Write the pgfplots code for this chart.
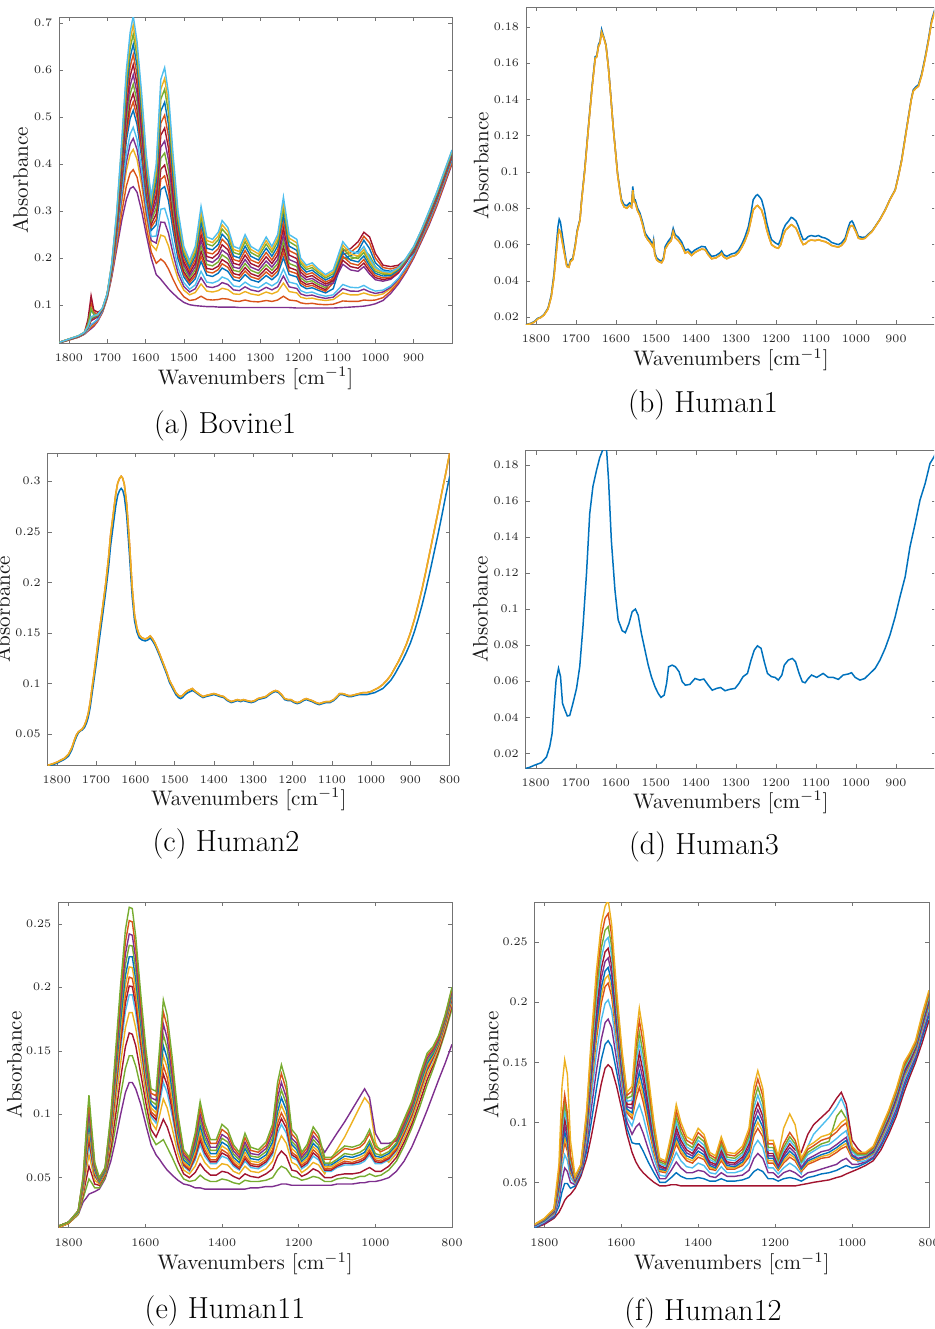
\RequirePackage{fix-cm}
\documentclass[border=0pt]{standalone}
\usepackage{fontspec}
\usepackage{pgfplots}
\usepackage{pgfplotstable}
\pgfplotsset{compat=1.18}
\definecolor{C1}{rgb}{0,0.447,0.741}
\definecolor{C2}{rgb}{0.85,0.325,0.098}
\definecolor{C3}{rgb}{0.929,0.694,0.125}
\definecolor{C4}{rgb}{0.494,0.184,0.556}
\definecolor{C5}{rgb}{0.466,0.674,0.188}
\definecolor{C6}{rgb}{0.301,0.745,0.933}
\definecolor{C7}{rgb}{0.635,0.078,0.184}

\pgfplotstableread{
x B g10 g22 g35 g45 g55 g66 g78 g90 T
1825 .020 .020 .020 .020 .020 .021 .021 .021 .021 .021
1800 .026 .026 .026 .027 .027 .027 .027 .028 .028 .028
1775 .032 .032 .033 .033 .033 .034 .034 .034 .035 .035
1760 .038 .038 .039 .039 .040 .040 .041 .041 .042 .042
1750 .045 .046 .047 .049 .055 .070 .052 .053 .054 .055
1742 .050 .053 .056 .059 .090 .120 .067 .070 .073 .075
1735 .055 .057 .060 .063 .082 .090 .070 .073 .076 .078
1725 .065 .067 .068 .070 .074 .085 .075 .077 .079 .080
1712 .085 .086 .087 .089 .090 .091 .092 .093 .094 .095
1700 .115 .116 .117 .119 .120 .121 .122 .123 .124 .125
1688 .160 .163 .167 .171 .174 .177 .180 .183 .187 .190
1675 .220 .228 .238 .248 .256 .264 .273 .282 .292 .300
1662 .280 .297 .317 .340 .357 .374 .392 .413 .433 .450
1650 .325 .353 .386 .421 .449 .476 .507 .540 .573 .600
1640 .348 .381 .421 .464 .497 .531 .567 .607 .647 .680
1632 .352 .388 .431 .478 .514 .550 .590 .633 .676 .715
1622 .340 .372 .410 .452 .484 .516 .551 .590 .628 .660
1610 .300 .325 .355 .388 .413 .438 .465 .495 .525 .550
1598 .250 .267 .287 .310 .327 .344 .362 .383 .403 .420
1585 .200 .213 .229 .246 .259 .272 .286 .301 .317 .330
1572 .165 .189 .217 .247 .271 .294 .320 .348 .377 .400
1560 .155 .198 .249 .304 .346 .389 .436 .487 .538 .580
1550 .145 .191 .246 .306 .352 .398 .449 .504 .559 .605
1540 .135 .177 .226 .280 .322 .363 .409 .459 .509 .550
1528 .125 .155 .190 .228 .258 .287 .320 .355 .391 .420
1515 .115 .134 .156 .180 .198 .217 .237 .259 .282 .300
1500 .106 .118 .132 .148 .160 .171 .185 .199 .213 .225
1485 .101 .110 .122 .134 .143 .153 .163 .174 .186 .195
1470 .099 .112 .127 .143 .156 .168 .182 .197 .212 .225
1455 .098 .119 .145 .172 .193 .215 .238 .263 .289 .310
1440 .097 .112 .130 .149 .164 .178 .195 .212 .230 .245
1425 .097 .111 .128 .147 .161 .176 .191 .209 .226 .240
1410 .096 .112 .131 .152 .168 .183 .201 .220 .239 .255
1400 .096 .114 .136 .160 .179 .197 .217 .240 .262 .280
1385 .096 .113 .133 .155 .172 .189 .208 .228 .248 .265
1370 .096 .109 .124 .141 .154 .167 .181 .197 .212 .225
1355 .095 .108 .123 .139 .151 .164 .178 .193 .208 .220
1340 .095 .111 .129 .149 .165 .180 .197 .216 .235 .250
1325 .095 .108 .124 .141 .154 .167 .181 .196 .212 .225
1305 .095 .107 .121 .137 .149 .161 .174 .189 .203 .215
1285 .095 .110 .128 .148 .163 .178 .194 .212 .230 .245
1270 .095 .108 .124 .141 .154 .167 .181 .196 .212 .225
1255 .095 .111 .129 .149 .165 .180 .197 .216 .235 .250
1240 .095 .119 .147 .177 .201 .224 .250 .278 .307 .330
1225 .095 .111 .129 .149 .165 .180 .197 .216 .235 .250
1205 .094 .109 .126 .145 .160 .174 .190 .208 .225 .240
1195 .094 .105 .117 .131 .142 .152 .164 .177 .189 .200
1180 .094 .103 .114 .126 .135 .144 .154 .165 .176 .185
1165 .094 .104 .115 .128 .137 .147 .157 .169 .180 .190
1150 .094 .102 .112 .123 .132 .140 .149 .160 .170 .178
1130 .094 .101 .110 .119 .126 .133 .141 .149 .158 .165
1110 .094 .102 .112 .122 .135 .160 .147 .157 .167 .175
1085 .095 .109 .126 .144 .200 .215 .187 .204 .221 .235
1065 .096 .108 .122 .138 .205 .220 .175 .189 .203 .215
1045 .097 .108 .122 .137 .215 .235 .172 .185 .199 .210
1030 .098 .111 .126 .142 .238 .255 .182 .197 .212 .225
1015 .100 .110 .122 .135 .220 .245 .166 .178 .190 .200
1000 .103 .111 .120 .130 .190 .210 .154 .163 .172 .180
980 .110 .116 .124 .132 .175 .185 .151 .158 .166 .172
960 .125 .130 .135 .141 .172 .182 .155 .160 .166 .170
940 .145 .149 .153 .157 .178 .185 .168 .172 .177 .180
920 .170 .173 .177 .181 .195 .198 .190 .193 .197 .200
900 .200 .203 .206 .209 .211 .214 .217 .220 .223 .225
880 .235 .238 .241 .244 .246 .249 .252 .255 .258 .260
860 .270 .273 .277 .281 .284 .287 .290 .293 .297 .300
840 .310 .313 .317 .321 .324 .327 .330 .333 .337 .340
820 .355 .358 .362 .366 .369 .372 .375 .378 .382 .385
800 .400 .403 .407 .411 .414 .417 .420 .423 .427 .430
}\tabA

\pgfplotstableread{
x h28 h50 h60 h72 h84 h95
1825 .020 .0205 .021 .021 .021 .021
1800 .0265 .027 .027 .0275 .028 .028
1775 .033 .0335 .034 .034 .0345 .035
1760 .039 .040 .0405 .041 .0415 .042
1750 .048 .0625 .061 .0525 .0535 .0545
1742 .0575 .105 .0935 .0685 .0715 .074
1735 .0615 .086 .080 .0715 .0745 .077
1725 .069 .0795 .080 .076 .078 .0795
1712 .088 .0905 .0915 .0925 .0935 .0945
1700 .118 .1205 .1215 .1225 .1235 .1245
1688 .169 .1755 .1785 .1815 .185 .1885
1675 .243 .260 .2685 .2775 .287 .296
1662 .3285 .3655 .383 .4025 .423 .4415
1650 .4035 .4625 .4915 .5235 .5565 .5865
1640 .4425 .514 .549 .587 .627 .6635
1632 .4545 .532 .570 .6115 .6545 .6955
1622 .431 .500 .5335 .5705 .609 .644
1610 .3715 .4255 .4515 .480 .510 .5375
1598 .2985 .3355 .353 .3725 .393 .4115
1585 .2375 .2655 .279 .2935 .309 .3235
1572 .232 .2825 .307 .334 .3625 .3885
1560 .2765 .3675 .4125 .4615 .5125 .559
1550 .276 .375 .4235 .4765 .5315 .582
1540 .253 .3425 .386 .434 .484 .5295
1528 .209 .2725 .3035 .3375 .373 .4055
1515 .168 .2075 .227 .248 .2705 .291
1500 .140 .1655 .178 .192 .206 .219
1485 .128 .148 .158 .1685 .180 .1905
1470 .135 .162 .175 .1895 .2045 .2185
1455 .1585 .204 .2265 .2505 .276 .2995
1440 .1395 .171 .1865 .2035 .221 .2375
1425 .1375 .1685 .1835 .200 .2175 .233
1410 .1415 .1755 .192 .2105 .2295 .247
1400 .148 .188 .207 .2285 .251 .271
1385 .144 .1805 .1985 .218 .238 .2565
1370 .1325 .1605 .174 .189 .2045 .2185
1355 .131 .1575 .171 .1855 .2005 .214
1340 .139 .1725 .1885 .2065 .2255 .2425
1325 .1325 .1605 .174 .1885 .204 .2185
1305 .129 .155 .1675 .1815 .196 .209
1285 .138 .1705 .186 .203 .221 .2375
1270 .1325 .1605 .174 .1885 .204 .2185
1255 .139 .1725 .1885 .2065 .2255 .2425
1240 .162 .2125 .237 .264 .2925 .3185
1225 .139 .1725 .1885 .2065 .2255 .2425
1205 .1355 .167 .182 .199 .2165 .2325
1195 .124 .147 .158 .1705 .183 .1945
1180 .120 .1395 .149 .1595 .1705 .1805
1165 .1215 .142 .152 .163 .1745 .185
1150 .1175 .136 .1445 .1545 .165 .174
1130 .1145 .1295 .137 .145 .1535 .1615
1110 .117 .1475 .1535 .152 .162 .171
1085 .135 .2075 .201 .1955 .2125 .228
1065 .130 .2125 .1975 .182 .196 .209
1045 .1295 .225 .2035 .1785 .192 .2045
1030 .134 .2465 .2185 .1895 .2045 .2185
1015 .1285 .2325 .2055 .172 .184 .195
1000 .125 .200 .182 .1585 .1675 .176
980 .128 .180 .168 .1545 .162 .169
960 .138 .177 .1685 .1575 .163 .168
940 .155 .1815 .1765 .170 .1745 .1785
920 .179 .1965 .194 .1915 .195 .1985
900 .2075 .2125 .2155 .2185 .2215 .224
880 .2425 .2475 .2505 .2535 .2565 .259
860 .279 .2855 .2885 .2915 .295 .2985
840 .319 .3255 .3285 .3315 .335 .3385
820 .364 .3705 .3735 .3765 .380 .3835
800 .409 .4155 .4185 .4215 .425 .4285
}\tabAh

\pgfplotstableread{
x Bl Ye
1825 .0160 .0158
1815 .0165 .0163
1805 .0175 .0172
1795 .0195 .0192
1788 .0200 .0198
1780 .0215 .0212
1770 .0250 .0245
1762 .0320 .0310
1755 .0440 .0420
1749 .0600 .0560
1745 .0700 .0650
1742 .0740 .0680
1739 .0725 .0670
1734 .0650 .0610
1728 .0560 .0540
1723 .0490 .0480
1718 .0480 .0475
1714 .0515 .0505
1708 .0525 .0518
1702 .0600 .0590
1697 .0680 .0670
1690 .0740 .0735
1686 .0847 .0840
1678 .1020 .1010
1669 .1250 .1240
1660 .1470 .1460
1652 .1635 .1625
1648 .1640 .1635
1644 .1700 .1690
1640 .1720 .1710
1636 .1785 .1770
1630 .1740 .1735
1625 .1700 .1695
1619 .1580 .1575
1613 .1420 .1415
1607 .1250 .1245
1601 .1110 .1105
1596 .0993 .0985
1590 .0900 .0890
1586 .0847 .0835
1580 .0820 .0808
1573 .0814 .0800
1566 .0830 .0815
1561 .0820 .0805
1558 .0920 .0900
1555 .0850 .0835
1552 .0847 .0832
1546 .0800 .0785
1540 .0773 .0760
1533 .0720 .0705
1527 .0663 .0650
1520 .0640 .0625
1515 .0627 .0612
1508 .0600 .0588
1506 .0625 .0610
1503 .0555 .0543
1498 .0526 .0515
1492 .0515 .0505
1486 .0508 .0500
1481 .0530 .0520
1477 .0590 .0575
1469 .0620 .0605
1462 .0640 .0622
1457 .0690 .0672
1452 .0655 .0638
1444 .0640 .0622
1436 .0615 .0598
1427 .0568 .0553
1420 .0575 .0560
1411 .0554 .0540
1403 .0570 .0556
1394 .0581 .0567
1386 .0590 .0575
1377 .0587 .0572
1370 .0560 .0546
1361 .0535 .0522
1350 .0540 .0527
1340 .0555 .0541
1336 .0565 .0551
1331 .0545 .0532
1323 .0535 .0522
1312 .0548 .0534
1302 .0554 .0540
1294 .0570 .0555
1286 .0600 .0583
1278 .0640 .0618
1269 .0700 .0670
1262 .0780 .0740
1257 .0847 .0790
1250 .0870 .0810
1246 .0875 .0815
1240 .0860 .0800
1236 .0847 .0790
1229 .0790 .0740
1223 .0719 .0680
1216 .0660 .0630
1211 .0627 .0600
1202 .0610 .0585
1194 .0600 .0580
1188 .0630 .0600
1182 .0682 .0650
1176 .0710 .0680
1169 .0728 .0695
1162 .0750 .0710
1158 .0746 .0705
1150 .0730 .0690
1144 .0700 .0660
1138 .0660 .0625
1132 .0627 .0600
1126 .0630 .0605
1119 .0645 .0620
1112 .0650 .0625
1102 .0645 .0622
1094 .0650 .0627
1085 .0640 .0620
1077 .0636 .0616
1068 .0625 .0606
1061 .0612 .0595
1052 .0605 .0590
1044 .0600 .0586
1036 .0610 .0596
1027 .0636 .0620
1020 .0690 .0670
1015 .0722 .0700
1010 .0730 .0705
1007 .0719 .0700
1000 .0680 .0670
994 .0645 .0635
985 .0640 .0630
977 .0641 .0635
968 .0660 .0655
960 .0675 .0672
952 .0700 .0698
940 .0740 .0738
927 .0792 .0790
915 .0850 .0848
902 .0902 .0900
894 .0980 .0975
886 .1067 .1060
878 .1180 .1172
869 .1305 .1298
862 .1400 .1395
857 .1452 .1445
850 .1470 .1462
844 .1480 .1472
836 .1540 .1530
827 .1635 .1625
819 .1730 .1720
811 .1837 .1825
805 .1880 .1870
800 .1920 .1912
}\tabB

\pgfplotstableread{
x Ye Bl
1823 .0190 .0185
1810 .0205 .0195
1800 .0220 .0210
1790 .0240 .0230
1780 .0260 .0250
1770 .0300 .0280
1762 .0360 .0340
1755 .0440 .0420
1750 .0490 .0470
1745 .0520 .0510
1740 .0535 .0530
1735 .0550 .0540
1730 .0580 .0560
1725 .0630 .0600
1720 .0700 .0660
1715 .0810 .0760
1710 .0960 .0900
1705 .1100 .1040
1700 .1250 .1180
1692 .1500 .1420
1683 .1760 .1680
1675 .2000 .1920
1668 .2250 .2150
1663 .2470 .2360
1657 .2650 .2540
1650 .2870 .2750
1645 .2980 .2860
1640 .3030 .2910
1636 .3050 .2930
1632 .3030 .2910
1628 .2970 .2850
1622 .2780 .2660
1615 .2400 .2280
1608 .1950 .1860
1602 .1680 .1620
1596 .1550 .1510
1590 .1480 .1450
1583 .1450 .1430
1575 .1440 .1420
1568 .1450 .1430
1562 .1470 .1450
1556 .1440 .1420
1550 .1400 .1380
1540 .1310 .1290
1530 .1210 .1190
1520 .1110 .1090
1513 .1030 .1010
1505 .0970 .0950
1497 .0910 .0890
1490 .0880 .0860
1485 .0870 .0850
1480 .0880 .0860
1473 .0910 .0890
1466 .0930 .0910
1460 .0940 .0920
1455 .0950 .0930
1450 .0930 .0920
1443 .0910 .0900
1436 .0890 .0880
1428 .0870 .0860
1420 .0880 .0870
1410 .0890 .0880
1400 .0900 .0890
1392 .0890 .0880
1385 .0880 .0870
1375 .0870 .0860
1366 .0840 .0830
1356 .0820 .0810
1348 .0830 .0820
1340 .0840 .0830
1332 .0830 .0820
1325 .0840 .0830
1316 .0830 .0820
1305 .0820 .0810
1296 .0830 .0820
1288 .0850 .0840
1278 .0860 .0850
1268 .0870 .0860
1258 .0900 .0890
1250 .0920 .0910
1243 .0930 .0920
1236 .0920 .0910
1228 .0890 .0880
1220 .0850 .0840
1212 .0840 .0830
1204 .0840 .0830
1196 .0820 .0810
1188 .0810 .0800
1180 .0820 .0810
1172 .0840 .0830
1165 .0850 .0840
1158 .0840 .0830
1150 .0830 .0820
1140 .0810 .0800
1132 .0800 .0790
1124 .0810 .0800
1115 .0820 .0810
1105 .0820 .0810
1095 .0840 .0830
1087 .0870 .0860
1080 .0900 .0890
1073 .0900 .0890
1065 .0890 .0880
1058 .0880 .0870
1050 .0880 .0870
1040 .0890 .0880
1030 .0900 .0890
1020 .0910 .0890
1010 .0910 .0890
1000 .0920 .0900
990 .0940 .0910
980 .0960 .0930
970 .0990 .0950
960 .1030 .0990
950 .1080 .1030
940 .1150 .1090
930 .1220 .1160
920 .1300 .1230
910 .1390 .1310
900 .1500 .1400
890 .1630 .1510
880 .1780 .1640
870 .1940 .1780
860 .2120 .1940
850 .2310 .2110
840 .2500 .2290
830 .2690 .2470
820 .2890 .2660
810 .3080 .2860
800 .3280 .3050
}\tabC

\pgfplotstableread{
x Bl
1825 .0117
1818 .0120
1802 .0135
1786 .0148
1773 .0180
1765 .0237
1759 .0310
1754 .0460
1749 .0606
1743 .0671
1738 .0625
1733 .0477
1727 .0440
1721 .0407
1715 .0410
1707 .0477
1698 .0560
1690 .0680
1682 .0900
1673 .1200
1665 .1530
1657 .1680
1648 .1770
1640 .1840
1632 .1885
1623 .1885
1618 .1715
1611 .1380
1602 .1105
1594 .0940
1584 .0880
1576 .0869
1567 .0920
1559 .0985
1551 .1000
1544 .0966
1536 .0865
1527 .0772
1519 .0690
1511 .0625
1502 .0569
1494 .0532
1487 .0510
1479 .0523
1473 .0588
1468 .0680
1459 .0689
1451 .0680
1442 .0653
1434 .0597
1426 .0578
1415 .0582
1402 .0615
1390 .0606
1380 .0612
1369 .0578
1359 .0550
1348 .0560
1338 .0565
1327 .0547
1315 .0555
1302 .0560
1292 .0588
1282 .0625
1271 .0643
1262 .0717
1254 .0772
1246 .0796
1237 .0782
1229 .0708
1221 .0643
1211 .0625
1202 .0621
1194 .0606
1185 .0634
1179 .0689
1169 .0717
1159 .0726
1151 .0708
1142 .0643
1134 .0597
1127 .0591
1119 .0615
1111 .0634
1098 .0621
1082 .0643
1069 .0621
1057 .0621
1044 .0610
1032 .0634
1019 .0640
1011 .0647
1002 .0621
990 .0606
978 .0615
965 .0643
952 .0671
940 .0717
927 .0782
915 .0856
902 .0957
890 .1068
877 .1179
865 .1345
852 .1475
840 .1604
827 .1697
815 .1807
805 .1844
800 .1870
}\tabD

\pgfplotstableread{
x B g15 g28 g40 g50 g60 g72 g85 T
1825 .011 .011 .011 .011 .012 .012 .012 .012 .012
1800 .014 .014 .014 .014 .015 .015 .015 .015 .015
1775 .021 .021 .022 .022 .023 .023 .023 .024 .024
1762 .031 .034 .037 .039 .042 .044 .046 .049 .052
1754 .034 .042 .049 .056 .061 .066 .073 .080 .088
1747 .037 .049 .059 .068 .076 .084 .093 .103 .115
1740 .038 .046 .053 .059 .064 .069 .075 .082 .090
1732 .039 .042 .045 .048 .051 .053 .056 .059 .062
1720 .041 .042 .044 .045 .046 .046 .047 .049 .050
1705 .049 .050 .052 .053 .054 .054 .055 .057 .058
1690 .063 .069 .073 .078 .082 .085 .090 .094 .100
1678 .079 .089 .098 .107 .114 .120 .129 .138 .148
1665 .099 .114 .127 .139 .150 .160 .172 .185 .200
1652 .117 .136 .153 .168 .181 .194 .209 .226 .245
1642 .125 .146 .164 .180 .194 .208 .224 .242 .263
1634 .125 .146 .163 .180 .194 .207 .224 .241 .262
1625 .120 .138 .154 .168 .180 .192 .206 .222 .240
1612 .108 .121 .132 .143 .152 .160 .171 .182 .195
1598 .091 .100 .108 .115 .121 .126 .133 .141 .150
1585 .076 .083 .088 .094 .098 .102 .108 .113 .120
1572 .068 .076 .082 .088 .093 .098 .104 .111 .118
1562 .064 .078 .089 .100 .110 .119 .130 .141 .155
1553 .060 .080 .096 .112 .125 .138 .154 .171 .190
1543 .056 .074 .090 .105 .117 .129 .144 .160 .178
1530 .052 .066 .078 .089 .099 .108 .119 .131 .145
1515 .048 .056 .063 .069 .074 .079 .085 .092 .100
1500 .045 .049 .053 .056 .059 .061 .064 .068 .072
1485 .044 .047 .050 .053 .055 .057 .060 .063 .066
1470 .042 .048 .054 .059 .064 .068 .073 .079 .085
1457 .042 .052 .061 .069 .076 .083 .091 .100 .110
1445 .041 .049 .056 .062 .067 .072 .078 .085 .093
1430 .041 .047 .052 .057 .061 .064 .069 .074 .080
1415 .041 .047 .052 .057 .061 .064 .069 .074 .080
1400 .041 .049 .055 .061 .067 .072 .078 .084 .092
1385 .041 .048 .054 .060 .065 .069 .075 .081 .088
1370 .041 .046 .051 .055 .059 .062 .066 .071 .076
1355 .041 .045 .049 .053 .056 .058 .062 .066 .070
1340 .041 .048 .053 .059 .063 .067 .073 .078 .085
1325 .042 .047 .051 .055 .058 .061 .065 .069 .074
1305 .042 .047 .050 .054 .057 .060 .064 .068 .072
1285 .043 .048 .053 .057 .061 .064 .068 .073 .078
1268 .043 .050 .057 .063 .068 .072 .078 .085 .092
1255 .044 .056 .067 .076 .085 .093 .102 .113 .125
1245 .045 .059 .071 .083 .092 .101 .113 .125 .139
1232 .045 .057 .067 .077 .085 .093 .103 .113 .125
1218 .044 .051 .056 .062 .066 .070 .076 .081 .088
1205 .044 .050 .055 .060 .064 .067 .072 .077 .083
1192 .044 .048 .051 .054 .057 .060 .063 .066 .070
1178 .044 .049 .053 .057 .060 .063 .067 .071 .076
1162 .044 .051 .057 .062 .067 .072 .077 .083 .090
1148 .044 .050 .055 .060 .064 .068 .073 .078 .084
1132 .044 .047 .050 .053 .055 .057 .060 .070 .066
1115 .044 .047 .050 .065 .055 .057 .060 .078 .066
1100 .045 .049 .052 .072 .058 .060 .063 .085 .070
1080 .045 .050 .053 .082 .060 .063 .067 .094 .075
1060 .045 .049 .053 .094 .060 .062 .066 .104 .074
1040 .046 .051 .054 .106 .061 .064 .068 .114 .076
1028 .046 .051 .056 .113 .063 .066 .070 .120 .080
1015 .047 .053 .058 .108 .068 .072 .077 .113 .088
1000 .047 .051 .055 .078 .061 .064 .067 .085 .075
985 .048 .052 .055 .068 .061 .063 .066 .077 .072
965 .050 .056 .059 .062 .064 .066 .069 .077 .075
945 .055 .063 .066 .069 .071 .073 .076 .079 .082
925 .063 .075 .078 .081 .084 .086 .089 .092 .096
905 .074 .089 .092 .095 .098 .100 .103 .106 .110
885 .088 .105 .109 .113 .116 .118 .122 .126 .130
865 .103 .123 .127 .131 .134 .136 .140 .144 .148
850 .115 .135 .138 .140 .143 .145 .147 .150 .153
835 .127 .148 .150 .152 .154 .155 .157 .159 .162
818 .140 .164 .166 .168 .170 .172 .174 .176 .178
800 .155 .183 .186 .188 .190 .192 .194 .197 .200
}\tabE

\pgfplotstableread{
x h55 h66 h78 h92
1825 .012 .012 .012 .012
1800 .015 .015 .015 .015
1775 .023 .023 .0235 .024
1762 .043 .045 .0475 .0505
1754 .0635 .0695 .0765 .084
1747 .080 .0885 .098 .109
1740 .0665 .072 .0785 .086
1732 .052 .0545 .0575 .0605
1720 .046 .0465 .048 .0495
1705 .054 .0545 .056 .0575
1690 .0835 .0875 .092 .097
1678 .117 .1245 .1335 .143
1665 .155 .166 .1785 .1925
1652 .1875 .2015 .2175 .2355
1642 .201 .216 .233 .2525
1634 .2005 .2155 .2325 .2515
1625 .186 .199 .214 .231
1612 .156 .1655 .1765 .1885
1598 .1235 .1295 .137 .1455
1585 .100 .105 .1105 .1165
1572 .0955 .101 .1075 .1145
1562 .1145 .1245 .1355 .148
1553 .1315 .146 .1625 .1805
1543 .123 .1365 .152 .169
1530 .1035 .1135 .125 .138
1515 .0765 .082 .0885 .096
1500 .060 .0625 .066 .070
1485 .056 .0585 .0615 .0645
1470 .066 .0705 .076 .082
1457 .0795 .087 .0955 .105
1445 .0695 .075 .0815 .089
1430 .0625 .0665 .0715 .077
1415 .0625 .0665 .0715 .077
1400 .0695 .075 .081 .088
1385 .067 .072 .078 .0845
1370 .0605 .064 .0685 .0735
1355 .057 .060 .064 .068
1340 .065 .070 .0755 .0815
1325 .0595 .063 .067 .0715
1305 .0585 .062 .066 .070
1285 .0625 .066 .0705 .0755
1268 .070 .075 .0815 .0885
1255 .089 .0975 .1075 .119
1245 .0965 .107 .119 .132
1232 .089 .098 .108 .119
1218 .068 .073 .0785 .0845
1205 .0655 .0695 .0745 .080
1192 .0585 .0615 .0645 .068
1178 .0615 .065 .069 .0735
1162 .0695 .0745 .080 .0865
1148 .066 .0705 .0755 .081
1132 .056 .0585 .0615 .0645
1115 .056 .0585 .0615 .0645
1100 .059 .0615 .0645 .068
1080 .0615 .065 .069 .073
1060 .061 .064 .068 .072
1040 .0625 .066 .070 .074
1028 .0645 .068 .0725 .0775
1015 .070 .0745 .0795 .085
1000 .0625 .0655 .069 .073
985 .062 .0645 .0675 .0705
965 .065 .0675 .0705 .0735
945 .072 .0745 .0775 .0805
925 .085 .0875 .0905 .094
905 .099 .1015 .1045 .108
885 .117 .120 .124 .128
865 .135 .138 .142 .146
850 .144 .146 .1485 .1515
835 .1545 .156 .158 .1605
818 .171 .173 .175 .177
800 .191 .193 .1955 .1985
}\tabEh

\pgfplotstableread{
x B g15 g28 g40 g50 g60 g72 g85 T
1825 .012 .012 .013 .013 .014 .014 .014 .015 .015
1800 .015 .016 .016 .017 .018 .018 .019 .019 .020
1775 .020 .021 .022 .023 .024 .025 .026 .027 .028
1762 .025 .030 .035 .039 .043 .046 .050 .055 .065
1754 .030 .042 .052 .062 .070 .078 .088 .098 .130
1747 .035 .049 .062 .073 .083 .092 .103 .116 .152
1740 .038 .049 .059 .068 .076 .083 .092 .102 .140
1732 .040 .045 .050 .054 .058 .061 .065 .070 .085
1720 .045 .047 .048 .049 .050 .051 .052 .054 .055
1705 .055 .057 .058 .059 .060 .061 .062 .064 .065
1690 .070 .076 .081 .086 .090 .094 .099 .104 .110
1678 .088 .100 .111 .121 .129 .137 .147 .158 .170
1665 .110 .127 .142 .156 .168 .179 .193 .208 .225
1652 .132 .152 .169 .185 .199 .212 .228 .245 .265
1642 .145 .165 .183 .199 .213 .226 .242 .260 .280
1634 .148 .168 .186 .202 .216 .229 .245 .263 .285
1625 .145 .163 .179 .193 .205 .217 .231 .247 .265
1612 .130 .142 .152 .162 .170 .178 .188 .198 .210
1598 .110 .118 .124 .130 .135 .140 .146 .153 .160
1585 .090 .095 .100 .104 .108 .111 .115 .120 .125
1572 .075 .083 .090 .097 .103 .108 .115 .122 .130
1562 .067 .082 .096 .108 .119 .129 .141 .155 .170
1553 .062 .082 .099 .115 .129 .142 .158 .175 .195
1543 .058 .076 .091 .105 .117 .128 .142 .157 .175
1530 .054 .067 .078 .088 .097 .106 .116 .127 .140
1515 .050 .058 .064 .070 .075 .080 .086 .093 .100
1500 .047 .050 .053 .056 .059 .061 .064 .067 .070
1485 .047 .050 .053 .055 .058 .060 .062 .065 .068
1470 .048 .054 .060 .065 .069 .073 .078 .084 .090
1457 .048 .058 .067 .075 .082 .088 .096 .105 .115
1445 .047 .055 .062 .068 .074 .079 .085 .092 .100
1430 .047 .053 .058 .063 .068 .072 .077 .082 .088
1415 .047 .053 .058 .062 .066 .070 .074 .079 .085
1400 .047 .054 .060 .066 .071 .076 .082 .088 .095
1385 .047 .053 .059 .064 .069 .073 .078 .084 .090
1370 .047 .051 .055 .058 .061 .064 .067 .071 .075
1355 .047 .051 .054 .057 .060 .062 .065 .068 .072
1340 .047 .053 .058 .063 .068 .072 .077 .082 .088
1325 .047 .051 .055 .058 .061 .064 .067 .071 .075
1305 .047 .051 .055 .058 .061 .063 .066 .070 .074
1285 .047 .052 .056 .060 .064 .067 .071 .075 .080
1268 .047 .054 .060 .066 .071 .076 .082 .088 .095
1255 .047 .059 .070 .080 .089 .097 .107 .118 .130
1245 .047 .061 .074 .085 .095 .105 .116 .129 .143
1232 .047 .059 .070 .079 .088 .096 .105 .116 .128
1218 .047 .053 .058 .062 .066 .070 .074 .079 .085
1205 .047 .053 .058 .062 .066 .070 .074 .079 .085
1192 .047 .051 .054 .057 .060 .062 .065 .068 .072
1178 .047 .053 .058 .062 .066 .070 .074 .079 .095
1162 .047 .054 .060 .066 .071 .076 .082 .088 .107
1148 .047 .053 .058 .063 .068 .072 .077 .082 .098
1132 .048 .051 .054 .057 .059 .061 .075 .067 .070
1115 .049 .054 .058 .080 .065 .068 .090 .075 .080
1100 .050 .055 .059 .090 .067 .070 .098 .078 .083
1080 .051 .057 .061 .097 .070 .073 .104 .082 .088
1060 .052 .058 .063 .104 .071 .075 .110 .084 .090
1040 .054 .060 .065 .113 .075 .079 .120 .105 .095
1028 .055 .062 .068 .120 .078 .082 .125 .110 .100
1015 .057 .064 .070 .110 .080 .085 .115 .103 .103
1000 .059 .062 .065 .080 .070 .072 .085 .077 .080
985 .061 .063 .065 .067 .068 .069 .078 .073 .075
965 .064 .066 .067 .068 .070 .071 .072 .073 .075
945 .068 .070 .071 .073 .074 .075 .077 .078 .080
925 .077 .080 .082 .084 .086 .088 .090 .092 .095
905 .090 .093 .096 .098 .100 .102 .104 .107 .110
885 .105 .108 .111 .114 .117 .119 .122 .125 .128
865 .125 .129 .132 .135 .138 .140 .143 .146 .150
850 .138 .141 .144 .146 .148 .150 .152 .155 .158
835 .150 .153 .155 .157 .159 .161 .163 .165 .168
818 .166 .170 .173 .176 .178 .180 .183 .186 .190
800 .185 .189 .192 .195 .198 .200 .203 .206 .210
}\tabF

\pgfplotstableread{
x h55 h66 h78 h92
1825 .014 .014 .0145 .015
1800 .018 .0185 .019 .0195
1775 .0245 .0255 .0265 .0275
1762 .0445 .048 .0525 .0575
1754 .074 .083 .093 .104
1747 .0875 .0975 .1095 .123
1740 .0795 .0875 .097 .1075
1732 .0595 .063 .0675 .0725
1720 .0505 .0515 .053 .0545
1705 .0605 .0615 .063 .0645
1690 .092 .0965 .1015 .107
1678 .133 .142 .1525 .164
1665 .1735 .186 .2005 .2165
1652 .2055 .220 .2365 .255
1642 .2195 .234 .251 .270
1634 .2225 .237 .254 .274
1625 .211 .224 .239 .256
1612 .174 .183 .193 .204
1598 .1375 .143 .1495 .1565
1585 .1095 .113 .1175 .1225
1572 .1055 .1115 .1185 .126
1562 .124 .135 .148 .1625
1553 .1355 .150 .1665 .185
1543 .1225 .135 .1495 .166
1530 .1015 .111 .1215 .1335
1515 .0775 .083 .0895 .0965
1500 .060 .0625 .0655 .0685
1485 .059 .061 .0635 .0665
1470 .071 .0755 .081 .087
1457 .085 .092 .1005 .110
1445 .0765 .082 .0885 .096
1430 .070 .0745 .0795 .085
1415 .068 .072 .0765 .082
1400 .0735 .079 .085 .0915
1385 .071 .0755 .081 .087
1370 .0625 .0655 .069 .073
1355 .061 .0635 .0665 .070
1340 .070 .0745 .0795 .085
1325 .0625 .0655 .069 .073
1305 .062 .0645 .068 .072
1285 .0655 .069 .073 .0775
1268 .0735 .079 .085 .0915
1255 .093 .102 .1125 .124
1245 .100 .1105 .1225 .136
1232 .092 .1005 .1105 .122
1218 .068 .072 .0765 .082
1205 .068 .072 .0765 .082
1192 .061 .0635 .0665 .070
1178 .068 .072 .0765 .082
1162 .0735 .079 .085 .0915
1148 .070 .0745 .0795 .085
1132 .060 .0625 .0655 .0685
1115 .0665 .0695 .073 .0775
1100 .0685 .072 .076 .0805
1080 .0715 .0755 .080 .085
1060 .073 .077 .0815 .087
1040 .077 .0815 .0865 .092
1028 .080 .0845 .090 .0965
1015 .0825 .0875 .093 .0995
1000 .071 .073 .0755 .0785
985 .0685 .070 .072 .074
965 .0705 .0715 .0725 .074
945 .0745 .076 .0775 .079
925 .087 .089 .091 .0935
905 .101 .103 .1055 .1085
885 .118 .1205 .1235 .1265
865 .139 .1415 .1445 .148
850 .149 .151 .1535 .1565
835 .160 .162 .164 .1665
818 .179 .1815 .1845 .188
800 .199 .2015 .2045 .208
}\tabFh

\pgfplotsset{
  spec/.style={
    scale only axis, x dir=reverse, xmin=800,
    anchor=south west,
    tick align=inside, major tick length=2pt,
    axis line style={black!55},
    tick style={black!55},
    tick label style={font=\fontsize{5.75}{7}\selectfont, text=black!85},
    label style={font=\fontsize{10.5}{12}\selectfont, text=black!90},
    /pgf/number format/assume math mode=true,
    scaled ticks=false,
    yticklabel style={/pgf/number format/fixed, /pgf/number format/precision=2},
    xticklabel style={/pgf/number format/fixed, /pgf/number format/1000 sep={}, yshift=-1.8pt},
    ylabel={Absorbance}, xlabel={Wavenumbers [cm$^{-1}$]},
    no markers,
    every axis plot/.append style={line width=0.7pt},
  }
}

\begin{document}
\begin{tikzpicture}
\useasboundingbox (0,0) rectangle (467pt,664.5pt);
\begin{scope}
\clip (0,0) rectangle (467pt,664.5pt);

% (a) Bovine1
\begin{axis}[spec, at={(29.65pt,492.85pt)}, width=196.35pt, height=163pt,
  xmax=1825, ymin=0.019, ymax=0.712,
  xtick={900,1000,...,1800}, ytick={0.1,0.2,...,0.7},
  ylabel style={at={(axis description cs:-0.0797,0.5)}, anchor=base},
  xlabel style={at={(axis description cs:0.5,0)}, anchor=base, yshift=-20.5pt}]
\addplot[C4] table[x=x,y=B]{\tabA};
\addplot[C2] table[x=x,y=g10]{\tabA};
\addplot[C3] table[x=x,y=g22]{\tabA};
\addplot[C4] table[x=x,y=h28]{\tabAh};
\addplot[C6] table[x=x,y=g35]{\tabA};
\addplot[C1] table[x=x,y=g45]{\tabA};
\addplot[C2] table[x=x,y=h50]{\tabAh};
\addplot[C7] table[x=x,y=g55]{\tabA};
\addplot[C5] table[x=x,y=h60]{\tabAh};
\addplot[C4] table[x=x,y=g66]{\tabA};
\addplot[C7] table[x=x,y=h72]{\tabAh};
\addplot[C2] table[x=x,y=g78]{\tabA};
\addplot[C1] table[x=x,y=h84]{\tabAh};
\addplot[C5] table[x=x,y=g90]{\tabA};
\addplot[C3] table[x=x,y=h95]{\tabAh};
\addplot[C6] table[x=x,y=T]{\tabA};
\end{axis}

% (b) Human1
\begin{axis}[spec, at={(263pt,502.35pt)}, width=205pt, height=158.5pt,
  xmax=1825, ymin=0.0161, ymax=0.1907,
  xtick={900,1000,...,1800}, ytick={0.02,0.04,...,0.181},
  ylabel style={at={(axis description cs:-0.092,0.5)}, anchor=base},
  xlabel style={at={(axis description cs:0.5,0)}, anchor=base, yshift=-20.8pt},
  every axis plot/.append style={line width=0.75pt}]
\addplot[C1] table[x=x,y=Bl]{\tabB};
\addplot[C2] table[x=x,y=Ye]{\tabB};
\addplot[C3] table[x=x,y=Ye]{\tabB};
\end{axis}

% (c) Human2
\begin{axis}[spec, at={(23.85pt,281.85pt)}, width=201pt, height=156pt,
  xmax=1823, ymin=0.019, ymax=0.3277,
  xtick={800,900,...,1800}, ytick={0.05,0.1,...,0.31},
  ylabel style={at={(axis description cs:-0.0938,0.5)}, anchor=base},
  xlabel style={at={(axis description cs:0.5,0)}, anchor=base, yshift=-20pt},
  every axis plot/.append style={line width=0.75pt}]
\addplot[C1] table[x=x,y=Bl]{\tabC};
\addplot[C2] table[x=x,y=Ye]{\tabC};
\addplot[C3] table[x=x,y=Ye]{\tabC};
\end{axis}

% (d) Human3
\begin{axis}[spec, at={(262.85pt,280.35pt)}, width=205.15pt, height=158.8pt,
  xmax=1825, ymin=0.0117, ymax=0.1878,
  xtick={900,1000,...,1800}, ytick={0.02,0.04,...,0.181},
  ylabel style={at={(axis description cs:-0.0926,0.5)}, anchor=base},
  xlabel style={at={(axis description cs:0.5,0)}, anchor=base, yshift=-20pt},
  every axis plot/.append style={line width=0.75pt}]
\addplot[C1] table[x=x,y=Bl]{\tabD};
\end{axis}

% (e) Human11
\begin{axis}[spec, at={(29.15pt,50.65pt)}, width=196.85pt, height=162.7pt,
  xmax=1827, ymin=0.0106, ymax=0.2669,
  xtick={800,1000,...,1800}, ytick={0.05,0.1,...,0.26},
  ylabel style={at={(axis description cs:-0.093,0.5)}, anchor=base},
  xlabel style={at={(axis description cs:0.5,0)}, anchor=base, yshift=-21.1pt}]
\addplot[C4] table[x=x,y=B]{\tabE};
\addplot[C5] table[x=x,y=g15]{\tabE};
\addplot[C7] table[x=x,y=g28]{\tabE};
\addplot[C3] table[x=x,y=g40]{\tabE};
\addplot[C6] table[x=x,y=g50]{\tabE};
\addplot[C7] table[x=x,y=h55]{\tabEh};
\addplot[C2] table[x=x,y=g60]{\tabE};
\addplot[C3] table[x=x,y=h66]{\tabEh};
\addplot[C1] table[x=x,y=g72]{\tabE};
\addplot[C5] table[x=x,y=h78]{\tabEh};
\addplot[C4] table[x=x,y=g85]{\tabE};
\addplot[C2] table[x=x,y=h92]{\tabEh};
\addplot[C5] table[x=x,y=T]{\tabE};
\end{axis}

% (f) Human12
\begin{axis}[spec, at={(267.35pt,50.65pt)}, width=197.15pt, height=162.7pt,
  xmax=1825, ymin=0.0122, ymax=0.2833,
  xtick={800,1000,...,1800}, ytick={0.05,0.1,...,0.26},
  ylabel style={at={(axis description cs:-0.0923,0.5)}, anchor=base},
  xlabel style={at={(axis description cs:0.5,0)}, anchor=base, yshift=-21.1pt}]
\addplot[C7] table[x=x,y=B]{\tabF};
\addplot[C1] table[x=x,y=g15]{\tabF};
\addplot[C4] table[x=x,y=g28]{\tabF};
\addplot[C6] table[x=x,y=g40]{\tabF};
\addplot[C2] table[x=x,y=g50]{\tabF};
\addplot[C3] table[x=x,y=h55]{\tabFh};
\addplot[C1] table[x=x,y=g60]{\tabF};
\addplot[C4] table[x=x,y=h66]{\tabFh};
\addplot[C7] table[x=x,y=g72]{\tabF};
\addplot[C6] table[x=x,y=h78]{\tabFh};
\addplot[C5] table[x=x,y=g85]{\tabF};
\addplot[C2] table[x=x,y=h92]{\tabFh};
\addplot[C3] table[x=x,y=T]{\tabF};
\end{axis}

\begin{scope}[every node/.style={anchor=base, font=\fontsize{15.2}{17}\selectfont}]
\node at (112.5pt,447.75pt) {(a) Bovine1};
\node at (351.5pt,458pt) {(b) Human1};
\node at (113pt,238.5pt) {(c) Human2};
\node at (352pt,237pt) {(d) Human3};
\node at (112.5pt,5.25pt) {(e) Human11};
\node at (351.5pt,4.5pt) {(f) Human12};
\end{scope}
\end{scope}
\end{tikzpicture}
\end{document}
